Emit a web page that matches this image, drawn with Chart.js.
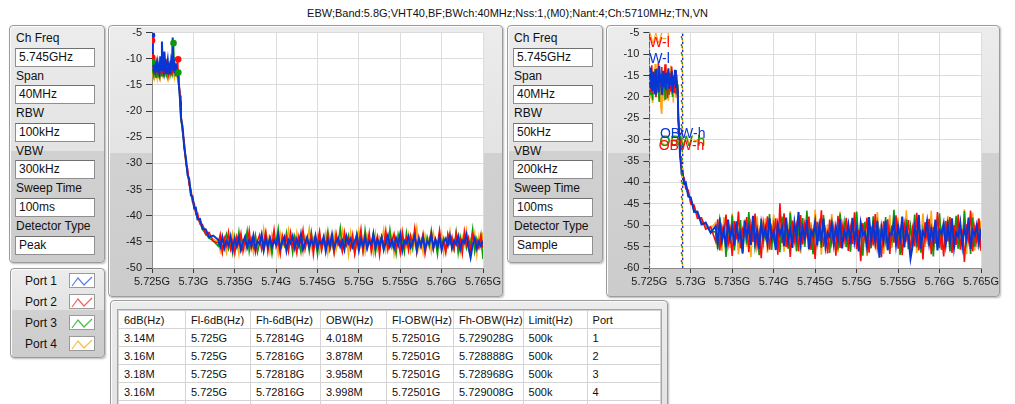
<!DOCTYPE html>
<html>
<head>
<meta charset="utf-8">
<title>EBW spectrum</title>
<script src="https://cdn.jsdelivr.net/npm/chart.js@4.4.1/dist/chart.umd.min.js"></script>
<style>
  html, body { margin: 0; padding: 0; }
  body {
    position: relative;
    width: 1015px;
    height: 404px;
    overflow: hidden;
    background: #fff;
    font-family: 'Liberation Sans', Arial, sans-serif;
    color: #111;
  }
  #title { position: absolute; top: 7px; left: 0; width: 1015px; text-align: center; font-size: 11px; }
  .panel {
    position: absolute;
    box-sizing: border-box;
    border: 1px solid #9b9b9b;
    border-radius: 4px;
    background: linear-gradient(#ececec 0%, #e3e3e3 var(--split), #d1d1d1 var(--split), #cccccc 100%);
    box-shadow: inset 1px 1px 0 #fbfbfb, 1px 1px 2px rgba(0,0,0,0.28);
  }
  .lbl { position: absolute; left: 6px; font-size: 12px; line-height: 14px; white-space: nowrap; }
  .field {
    position: absolute; left: 5px; width: 80px; height: 19px; box-sizing: border-box;
    background: #fff; border: 1px solid #8f8f8f; border-top-color: #6f6f6f;
    font-size: 12px; line-height: 17px; padding-left: 3px; white-space: nowrap;
  }
  .port { position: absolute; left: 14px; font-size: 12px; line-height: 14px; }
  .swatch { position: absolute; left: 58px; width: 26px; height: 15px; box-sizing: border-box; background: #fff; border: 1px solid #9a9a9a; }
  table {
    position: absolute; left: 7px; top: 9px; border-collapse: collapse; table-layout: fixed;
    background: #fff; font-size: 11px; outline: 1px solid #a4a4a4;
  }
  td { height: 17px; padding: 0 0 0 5px; border: 1px solid #d4d4d4; white-space: nowrap; overflow: hidden; }
  canvas { position: absolute; z-index: 2; }
</style>
</head>
<body>
<div id="title">EBW;Band:5.8G;VHT40,BF;BWch:40MHz;Nss:1,(M0);Nant:4;Ch:5710MHz;TN,VN</div>
<canvas id="left" width="410" height="285" style="left:110px;top:17px"></canvas>
<canvas id="right" width="409" height="285" style="left:606px;top:17px"></canvas>

<script>
// ---- settings / table text ----
const settingLabels = ['Ch Freq', 'Span', 'RBW', 'VBW', 'Sweep Time', 'Detector Type'];
const leftSettings = ['5.745GHz', '40MHz', '100kHz', '300kHz', '100ms', 'Peak'];
const rightSettings = ['5.745GHz', '40MHz', '50kHz', '200kHz', '100ms', 'Sample'];
const portNames = ['Port 1', 'Port 2', 'Port 3', 'Port 4'];

const tableHeaders = ['6dB(Hz)', 'Fl-6dB(Hz)', 'Fh-6dB(Hz)', 'OBW(Hz)', 'Fl-OBW(Hz)', 'Fh-OBW(Hz)', 'Limit(Hz)', 'Port'];
const tableRows = [
  ['3.14M', '5.725G', '5.72814G', '4.018M', '5.72501G', '5.729028G', '500k', '1'],
  ['3.16M', '5.725G', '5.72816G', '3.878M', '5.72501G', '5.728888G', '500k', '2'],
  ['3.18M', '5.725G', '5.72818G', '3.958M', '5.72501G', '5.728968G', '500k', '3'],
  ['3.16M', '5.725G', '5.72816G', '3.998M', '5.72501G', '5.729008G', '500k', '4']
];

// ---- axes ----
const xTickLabels = ['5.725G', '5.73G', '5.735G', '5.74G', '5.745G', '5.75G', '5.755G', '5.76G', '5.765G'];
const leftYMin = -50;
const rightYMin = -60;

// sweep bins of the noise floor (kHz above 5.725 GHz), shared by both graphs
const floorFreqKHz = [
  8000,8250,8500,8750,9000,9250,9500,9750,10000,10250,10500,10750,11000,11250,11500,11750,
  12000,12250,12500,12750,13000,13250,13500,13750,14000,14250,14500,14750,15000,15250,15500,15750,
  16000,16250,16500,16750,17000,17250,17500,17750,18000,18250,18500,18750,19000,19250,19500,19750,
  20000,20250,20500,20750,21000,21250,21500,21750,22000,22250,22500,22750,23000,23250,23500,23750,
  24000,24250,24500,24750,25000,25250,25500,25750,26000,26250,26500,26750,27000,27250,27500,27750,
  28000,28250,28500,28750,29000,29250,29500,29750,30000,30250,30500,30750,31000,31250,31500,31750,
  32000,32250,32500,32750,33000,33250,33500,33750,34000,34250,34500,34750,35000,35250,35500,35750,
  36000,36250,36500,36750,37000,37250,37500,37750,38000,38250,38500,38750,39000,39250,39500,39750,
  40000
];

// ---- left graph (RBW 100 kHz, peak) ----
const leftFreqKHz = [
  0,100,200,300,400,500,600,700,800,900,1000,1100,1200,1300,1400,1500,1600,1700,1800,1900,2000,2100,2200,2300,2400,2500,2600,2700,2800,2900,3000,3100,
  3150,3200,3300,3400,3500,3700,3900,4100,4300,4500,4700,4900,5100,5300,5500,5800,6100,6500,6900,7400
].concat(floorFreqKHz);

const leftPort1 = [
  -6,-10.5,-11.8,-10.9,-12.3,-11.2,-12.6,-10.8,-11.9,-12.8,-9.5,-12.1,-6.7,-11.5,-12.4,-8.6,-11.0,-12.7,-11.3,-10.2,-12.2,-11.6,-12.9,-10.7,-11.9,-5.9,-12.3,-11.1,-12.5,-10.9,-11.8,-12.6,
  -12.8,-14.2,-16.0,-18.1,-21.3,-23.0,-27.1,-29.0,-32.2,-33.0,-36.1,-36.3,-38.6,-38.5,-40.7,-40.6,-42.5,-42.6,-44.1,-43.8,
  -44.6,-45.9,-44.1,-46.2,-44.8,-45.6,-43.9,-46.4,-44.5,-45.8,-44.2,-46.5,-45.1,-44.0,-46.1,-44.7,
  -45.7,-43.8,-46.3,-44.9,-45.4,-43.6,-46.6,-44.4,-45.9,-44.3,-46.0,-44.8,-45.5,-43.7,-46.2,-45.0,
  -44.1,-46.7,-44.6,-45.3,-43.9,-46.1,-44.5,-45.8,-43.5,-46.4,-45.2,-44.2,-46.0,-44.7,-45.6,-43.8,
  -46.3,-44.9,-45.4,-44.0,-46.8,-44.6,-45.7,-43.6,-46.2,-45.1,-44.3,-45.9,-44.8,-46.5,-43.9,-45.3,
  -44.4,-46.0,-45.0,-43.7,-46.6,-44.5,-45.8,-44.1,-46.3,-44.9,-45.5,-43.5,-46.1,-44.6,-45.7,-44.2,
  -46.4,-45.2,-43.8,-45.9,-44.7,-46.2,-44.3,-45.6,-43.6,-46.7,-44.8,-45.3,-44.0,-46.0,-45.1,-43.9,
  -46.5,-44.5,-45.8,-44.2,-46.3,-44.9,-45.4,-43.7,-46.1,-44.6,-45.9,-44.1,-46.6,-45.0,-44.4,-45.7,
  -43.8,-46.2,-44.8,-45.5,-44.0,-46.4,-44.7,-45.2,-43.6,-46.0,-48.0,-45.6,-44.3,-46.3,-44.9,-45.8,
  -44.8
];
const leftPort2 = [
  -6.5,-9.9,-12.4,-11.1,-12.9,-10.6,-11.7,-13.1,-10.9,-12.2,-11.4,-12.8,-10.4,-11.9,-12.6,-11.0,-13.0,-10.1,-12.3,-11.5,-12.7,-11.2,-10.8,-12.9,-11.6,-12.1,-10.5,-12.8,-11.3,-12.0,-11.4,-10.1,
  -12.2,-13.1,-15.4,-17.0,-20.6,-24.1,-26.0,-30.1,-31.0,-34.2,-35.0,-37.4,-37.6,-39.7,-39.5,-41.6,-41.7,-43.6,-43.2,-44.9,
  -45.2,-43.6,-46.9,-44.3,-45.7,-43.2,-46.4,-44.9,-47.2,-44.0,-45.5,-43.4,-46.8,-44.6,-45.9,-42.9,
  -46.2,-44.4,-47.0,-44.8,-43.7,-46.5,-45.0,-43.1,-46.9,-44.2,-45.6,-42.7,-46.0,-44.9,-47.3,-43.8,
  -45.4,-44.1,-46.7,-43.3,-45.8,-44.7,-47.1,-43.9,-45.3,-42.8,-46.4,-44.5,-45.7,-43.5,-47.4,-44.3,
  -45.1,-43.0,-46.6,-44.8,-45.9,-43.6,-46.3,-44.1,-47.0,-43.4,-45.6,-44.9,-46.8,-43.2,-45.5,-44.4,
  -46.1,-43.7,-47.2,-44.6,-45.3,-42.6,-46.7,-44.0,-45.8,-43.3,-46.9,-44.7,-45.2,-43.9,-47.5,-44.2,
  -45.6,-42.9,-46.5,-44.5,-45.0,-43.5,-46.2,-44.8,-47.1,-43.1,-45.7,-44.3,-46.6,-43.8,-45.4,-42.5,
  -46.8,-44.1,-45.9,-43.6,-47.3,-44.9,-45.1,-43.2,-46.4,-44.4,-45.6,-42.8,-46.0,-44.7,-47.0,-43.5,
  -45.3,-44.0,-46.3,-43.4,-45.8,-44.6,-47.2,-43.0,-45.5,-44.2,-46.7,-43.7,-45.2,-44.8,-46.1,-43.9,
  -46.1
];
const leftPort3 = [
  -11.9,-12.4,-13.2,-11.6,-12.8,-13.5,-11.9,-12.6,-13.1,-11.3,-12.9,-12.2,-13.4,-11.8,-12.5,-13.0,-11.5,-12.7,-13.3,-12.0,-12.6,-11.4,-13.1,-12.3,-12.8,-11.7,-7.0,-12.4,-13.2,-11.9,-12.6,-12.6,
  -13.0,-14.5,-15.8,-18.4,-21.8,-23.6,-26.8,-29.8,-31.9,-33.8,-35.9,-37.1,-38.4,-39.3,-40.5,-41.3,-42.6,-43.5,-44.3,-44.8,
  -45.8,-44.2,-46.9,-44.7,-43.5,-46.3,-45.1,-47.2,-44.0,-45.9,-43.1,-46.5,-44.8,-45.4,-42.9,-46.8,
  -44.5,-46.0,-43.8,-47.0,-45.2,-44.1,-46.4,-43.4,-45.7,-44.6,-47.3,-44.3,-45.0,-42.5,-46.6,-44.9,
  -45.8,-43.3,-46.2,-44.4,-47.1,-43.9,-45.5,-44.7,-46.9,-43.6,-45.3,-44.0,-46.7,-43.2,-45.9,-44.5,
  -47.4,-43.7,-46.1,-44.2,-45.6,-43.0,-46.4,-44.8,-47.0,-44.1,-45.2,-42.4,-46.5,-44.6,-45.7,-43.8,
  -46.3,-44.9,-47.2,-43.5,-45.4,-44.3,-46.8,-42.8,-45.9,-44.0,-46.2,-43.4,-47.1,-44.7,-45.1,-43.9,
  -46.6,-44.4,-45.8,-42.7,-46.0,-44.8,-47.3,-43.6,-45.5,-44.2,-46.9,-43.3,-45.7,-44.5,-46.3,-43.1,
  -47.0,-44.6,-45.2,-43.7,-46.5,-44.1,-45.9,-42.9,-46.1,-44.8,-47.4,-43.5,-45.6,-44.3,-46.7,-43.8,
  -45.3,-44.9,-46.4,-43.2,-47.1,-44.0,-45.8,-43.6,-46.2,-44.7,-45.5,-42.6,-46.8,-44.4,-45.9,-43.7,
  -48.3
];
const leftPort4 = [
  -12.5,-13.0,-11.8,-13.4,-12.2,-12.9,-13.6,-11.7,-13.1,-12.4,-13.5,-12.0,-12.8,-13.3,-11.9,-13.0,-12.6,-13.4,-12.1,-12.9,-13.7,-12.3,-12.7,-13.2,-11.8,-13.0,-12.5,-13.5,-12.2,-12.8,-13.1,-12.7,
  -12.9,-13.8,-15.2,-17.8,-21.0,-23.9,-26.2,-29.3,-31.6,-33.3,-35.4,-36.6,-37.9,-38.8,-40.2,-41.1,-41.8,-42.9,-43.8,-44.5,
  -44.9,-46.7,-43.8,-45.5,-47.1,-44.3,-46.0,-43.4,-45.8,-44.6,-47.3,-44.0,-45.2,-46.5,-43.7,-45.9,
  -44.4,-47.0,-43.9,-45.6,-44.8,-46.3,-42.6,-45.4,-44.1,-46.9,-43.6,-45.3,-44.7,-47.2,-43.5,-45.7,
  -44.2,-46.4,-42.8,-45.1,-44.9,-46.6,-43.3,-45.8,-44.5,-47.0,-43.9,-45.0,-42.5,-46.2,-44.3,-45.6,
  -43.8,-46.8,-44.6,-45.3,-43.4,-47.1,-44.0,-45.9,-43.6,-46.5,-44.8,-45.2,-42.9,-46.0,-44.4,-47.4,
  -43.2,-45.5,-44.7,-46.1,-43.0,-45.8,-44.2,-46.9,-43.7,-45.4,-44.9,-47.2,-43.5,-46.3,-44.1,-45.0,
  -42.7,-46.6,-44.5,-45.7,-43.9,-47.3,-44.3,-45.2,-43.1,-46.4,-44.8,-45.9,-43.6,-46.7,-44.0,-45.4,
  -42.4,-46.2,-44.6,-47.0,-43.8,-45.6,-44.2,-46.8,-43.3,-45.1,-44.9,-46.0,-43.5,-47.1,-44.4,-45.8,
  -43.0,-46.5,-44.7,-45.3,-43.7,-46.9,-44.1,-45.5,-42.8,-46.3,-44.6,-45.7,-43.4,-47.4,-44.0,-45.9,
  -43.2
];
// marker dots seen on the left graph
const leftDotFreqKHz = [0, 0, 0, 0, 2600, 3160, 3180];
const leftDotLevel = [-5.5, -6.5, -9.7, -10.6, -7.0, -10.1, -12.6];
const leftDotPort = [0, 1, 1, 2, 2, 1, 2];

// ---- right graph (RBW 50 kHz, sample) ----
const rightFreqKHz = [
  0,100,200,300,400,500,600,700,800,900,1000,1100,1200,1300,1400,1500,1600,1700,1800,1900,2000,2100,2200,2300,2400,2500,2600,2700,2800,2900,3000,3100,3200,3300,3400,
  3450,3500,3600,3700,3800,3900,4000,4200,4400,4700,5000,5400,5800,6300,6800,7400
].concat(floorFreqKHz);

const rightPort1 = [
  -14.5,-17.8,-13.2,-16.9,-18.6,-14.1,-16.3,-19.2,-13.6,-17.4,-15.2,-18.9,-12.8,-16.6,-14.7,-19.5,-15.8,-13.9,-17.7,-16.1,-18.3,-14.4,-16.8,-13.3,-18.1,-15.5,-17.2,-14.0,-19.0,-15.9,-16.4,-13.7,-17.9,-16.2,-18.5,
  -20.2,-25.1,-28.4,-33.7,-34.8,-37.6,-37.3,-40.3,-40.0,-43.3,-43.5,-46.9,-46.8,-49.8,-49.4,-51.8,
  -50.2,-54.1,-49.3,-53.6,-51.0,-55.2,-48.7,-52.9,-50.6,-54.8,-49.1,-53.3,-51.7,-56.4,-48.9,-52.5,
  -50.3,-54.6,-47.8,-53.9,-51.2,-55.5,-49.6,-52.8,-50.9,-54.3,-48.4,-53.1,-51.5,-55.8,-49.8,-52.2,
  -50.5,-54.9,-48.2,-53.7,-51.1,-55.3,-49.4,-52.6,-46.9,-54.2,-50.7,-53.0,-48.8,-55.6,-51.4,-52.4,
  -49.2,-54.7,-50.1,-53.5,-48.5,-55.0,-51.8,-52.7,-49.7,-54.4,-50.4,-53.2,-48.6,-55.4,-51.3,-52.9,
  -49.9,-54.5,-48.3,-53.8,-50.8,-56.1,-49.5,-52.3,-51.6,-55.1,-48.1,-53.4,-50.0,-54.0,-49.0,-57.6,
  -50.6,-53.6,-48.9,-55.7,-51.9,-52.1,-49.3,-54.6,-50.2,-53.1,-48.0,-55.2,-51.0,-52.8,-57.8,-54.9,
  -50.4,-53.3,-47.6,-55.5,-51.5,-52.5,-49.1,-54.2,-50.9,-53.7,-48.7,-55.9,-51.2,-52.0,-49.6,-54.5,
  -50.1,-53.9,-48.4,-55.3,-51.7,-52.6,-49.4,-54.8,-50.7,-53.0,-48.2,-55.6,-51.3,-52.4,-49.9,-54.1,
  -51.0
];
const rightPort2 = [
  -13.8,-18.4,-15.1,-12.6,-19.3,-16.0,-14.2,-17.6,-20.1,-13.4,-16.7,-11.9,-18.8,-15.3,-17.1,-13.0,-19.6,-14.9,-16.3,-12.4,-18.0,-15.7,-20.3,-13.6,-17.3,-14.5,-18.7,-12.9,-16.9,-15.0,-19.1,-13.9,-17.5,-14.8,-18.2,
  -22.0,-24.0,-29.8,-32.5,-36.3,-36.4,-38.8,-38.9,-41.5,-41.8,-45.0,-45.3,-48.4,-48.3,-50.9,-50.4,
  -53.8,-48.6,-55.9,-50.4,-52.7,-47.5,-54.6,-51.3,-57.2,-49.0,-53.3,-46.8,-55.4,-50.9,-52.1,-48.1,
  -56.3,-50.0,-53.9,-47.3,-54.8,-51.6,-57.7,-49.4,-52.6,-47.9,-55.7,-50.6,-53.1,-48.4,-56.9,-44.9,
  -54.2,-47.2,-55.1,-51.0,-57.4,-48.9,-53.6,-50.2,-56.1,-47.6,-54.5,-49.6,-52.3,-48.0,-55.8,-50.8,
  -57.9,-49.2,-53.7,-46.5,-55.0,-51.4,-56.6,-48.7,-54.0,-50.5,-57.1,-47.8,-55.3,-49.9,-53.4,-48.3,
  -56.0,-50.7,-54.4,-47.0,-55.6,-51.1,-58.4,-49.5,-53.0,-48.2,-56.4,-50.3,-54.7,-47.4,-55.2,-51.8,
  -57.5,-49.1,-53.5,-48.6,-56.7,-50.1,-54.1,-47.7,-55.5,-51.5,-57.0,-49.7,-52.9,-48.8,-56.2,-50.9,
  -54.9,-47.1,-55.9,-51.2,-58.0,-49.3,-53.2,-48.5,-56.8,-50.4,-54.3,-46.9,-55.4,-51.7,-57.3,-49.0,
  -53.8,-48.1,-56.5,-50.0,-54.6,-47.5,-55.7,-51.0,-58.6,-49.8,-53.3,-46.6,-56.1,-50.6,-54.0,-48.4,
  -56.0
];
const rightPort3 = [
  -16.2,-19.4,-14.0,-17.3,-20.8,-15.1,-18.2,-13.5,-19.9,-16.4,-14.6,-18.7,-21.2,-15.4,-17.6,-13.9,-19.1,-16.7,-14.3,-20.5,-17.0,-15.6,-18.9,-14.1,-19.6,-16.0,-17.8,-13.7,-20.0,-15.2,-18.4,-14.8,-19.3,-16.5,-17.1,
  -21.5,-25.3,-28.7,-33.6,-35.1,-37.9,-37.6,-40.1,-40.3,-43.0,-43.8,-46.6,-47.1,-49.5,-49.7,-51.6,
  -51.5,-55.6,-48.2,-53.9,-50.1,-57.4,-49.6,-54.3,-47.7,-55.9,-51.0,-53.1,-48.8,-56.7,-50.5,-54.5,
  -46.9,-53.6,-49.3,-55.2,-51.8,-57.0,-48.5,-54.0,-50.3,-52.6,-47.4,-55.8,-49.9,-53.4,-51.3,-56.3,
  -48.0,-54.7,-50.8,-55.5,-47.1,-53.0,-49.5,-56.1,-50.6,-54.4,-48.3,-55.0,-46.6,-53.7,-51.1,-56.8,
  -49.0,-54.1,-50.0,-55.3,-47.6,-53.3,-51.6,-56.5,-48.9,-54.8,-50.2,-55.7,-47.3,-53.5,-49.4,-55.1,
  -50.7,-56.2,-48.4,-54.6,-46.8,-53.8,-51.4,-57.1,-49.2,-54.9,-50.4,-55.4,-47.9,-53.2,-49.7,-56.6,
  -51.2,-54.2,-48.1,-55.9,-50.9,-53.6,-46.4,-54.5,-49.8,-56.9,-51.7,-53.9,-48.6,-55.6,-50.3,-54.0,
  -47.5,-55.2,-49.1,-56.4,-51.0,-53.4,-48.7,-54.8,-50.6,-57.3,-49.5,-53.1,-47.2,-55.8,-50.0,-54.3,
  -48.8,-56.0,-51.3,-53.7,-47.8,-55.5,-49.9,-54.6,-46.7,-53.9,-50.8,-56.7,-48.2,-55.0,-49.6,-54.4,
  -50.7
];
const rightPort4 = [
  -15.4,-20.1,-13.1,-18.5,-21.4,-14.6,-17.9,-12.3,-19.0,-16.8,-19.2,-13.8,-20.6,-15.9,-22.5,-24.0,-18.3,-16.1,-21.0,-13.4,-19.7,-15.0,-17.4,-20.9,-14.4,-18.8,-12.7,-19.5,-16.3,-21.3,-14.9,-17.6,-20.2,-15.5,-18.0,
  -20.8,-24.2,-29.3,-32.7,-35.9,-36.7,-38.4,-39.2,-41.2,-42.2,-44.7,-45.5,-48.0,-48.6,-50.5,-50.8,
  -49.4,-54.7,-51.8,-56.0,-48.1,-53.2,-50.7,-55.3,-47.2,-54.0,-49.9,-56.8,-51.2,-53.7,-48.6,-55.1,
  -50.3,-57.5,-49.0,-52.9,-47.9,-55.7,-50.9,-54.3,-48.4,-56.4,-51.5,-53.0,-47.5,-55.4,-49.6,-54.6,
  -50.1,-56.2,-48.8,-53.5,-46.7,-55.0,-50.6,-54.1,-48.0,-56.6,-51.0,-53.8,-47.7,-55.9,-49.3,-54.5,
  -46.4,-53.1,-50.8,-56.9,-48.3,-54.2,-49.8,-55.6,-47.4,-53.6,-51.1,-56.3,-46.8,-54.9,-49.5,-55.2,
  -48.9,-56.1,-50.2,-53.3,-47.0,-55.8,-49.1,-54.8,-51.4,-57.2,-48.5,-53.9,-50.5,-55.5,-46.9,-54.4,
  -49.7,-56.7,-51.6,-53.4,-47.6,-55.3,-50.0,-54.6,-48.2,-57.0,-49.4,-53.7,-46.5,-55.6,-50.4,-54.2,
  -48.7,-56.5,-51.3,-53.1,-47.3,-55.1,-49.9,-54.7,-46.6,-56.0,-50.6,-53.5,-48.1,-55.7,-49.2,-54.0,
  -47.8,-56.3,-51.0,-53.8,-48.6,-55.4,-50.2,-54.9,-46.3,-56.8,-49.6,-53.2,-47.1,-55.9,-50.5,-54.3,
  -48.9
];
// cursor name tags on the right graph (port index, cursor, level where the tag sits)
const cursorTagPort = [3, 1, 0, 3, 2, 1, 0];
const cursorTagName = ['OBW-l', 'OBW-l', 'OBW-l', 'OBW-h', 'OBW-h', 'OBW-h', 'OBW-h'];
const cursorTagLevel = [-6.6, -7.5, -11.1, -30.3, -30.5, -31.6, -28.7];

// ---- colours ----
const portColors = ['#0636d4', '#ff0a0a', '#0c9a0c', '#ffa71a'];
const swatchColors = ['#5a7fe6', '#ff5c5c', '#4cbb4c', '#ffbb44'];

Chart.defaults.font.family = "'Liberation Sans', Arial, sans-serif";
Chart.defaults.font.size = 11;
Chart.defaults.color = '#1c1c1c';

// ====================================
// Panels
// ====================================
function addPanel(left, top, width, height, split) {
  const p = document.createElement('div');
  p.className = 'panel';
  p.style.cssText = `left:${left}px;top:${top}px;width:${width}px;height:${height}px;--split:${split}%`;
  document.body.appendChild(p);
  return p;
}

function buildSettings(left, values) {
  const p = addPanel(left, 25, 96, 238, 53);
  settingLabels.forEach((name, i) => {
    const l = document.createElement('div');
    l.className = 'lbl';
    l.textContent = name;
    l.style.top = (5 + i * 37.6) + 'px';
    p.appendChild(l);
    const f = document.createElement('div');
    f.className = 'field';
    f.textContent = values[i];
    f.style.top = (21.5 + i * 37.6) + 'px';
    p.appendChild(f);
  });
}

buildSettings(9, leftSettings);
addPanel(108, 25, 395, 272, 47);
buildSettings(507, rightSettings);
addPanel(606, 25, 394, 272, 47);

// port legend
const portPanel = addPanel(10, 268, 95, 90, 47);
portNames.forEach((name, i) => {
  const t = document.createElement('div');
  t.className = 'port';
  t.textContent = name;
  t.style.top = (5 + i * 21) + 'px';
  portPanel.appendChild(t);
  const s = document.createElement('div');
  s.className = 'swatch';
  s.style.top = (4 + i * 21) + 'px';
  s.innerHTML = `<svg width="24" height="13"><polyline points="2,11 8,3 14,10 22,2" fill="none" stroke="${swatchColors[i]}" stroke-width="1.2"/></svg>`;
  portPanel.appendChild(s);
});

// result table
const tablePanel = addPanel(110, 300, 558, 115, 100);
const colWidths = [67, 65, 70, 66, 67, 68, 64, 73];
let html = '<colgroup>' + colWidths.map(w => `<col style="width:${w}px">`).join('') + '</colgroup>';
html += '<tr>' + tableHeaders.map(h => `<td>${h}</td>`).join('') + '</tr>';
tableRows.forEach(r => { html += '<tr>' + r.map(c => `<td>${c}</td>`).join('') + '</tr>'; });
html += '<tr>' + colWidths.map(() => '<td></td>').join('') + '</tr>';
const table = document.createElement('table');
table.innerHTML = html;
tablePanel.appendChild(table);

// ====================================
// Charts
// ====================================
const plotBackground = {
  id: 'plotBackground',
  beforeDraw(chart) {
    const a = chart.chartArea, c = chart.ctx;
    c.save();
    c.fillStyle = '#ffffff';
    c.fillRect(a.left, a.top, a.right - a.left, a.bottom - a.top);
    c.restore();
  }
};

const cursorText = {
  id: 'cursorText',
  afterDatasetsDraw(chart, args, opts) {
    const items = opts.items || [];
    if (!items.length) return;
    const { ctx, chartArea: a, scales: { x, y } } = chart;
    ctx.save();
    ctx.beginPath();
    ctx.rect(a.left, a.top, a.right - a.left, a.bottom - a.top);
    ctx.clip();
    ctx.font = "14px 'Liberation Sans', Arial, sans-serif";
    ctx.textAlign = 'center';
    ctx.textBaseline = 'middle';
    items.forEach(it => {
      ctx.fillStyle = it.color;
      ctx.fillText(it.text, x.getPixelForValue(it.x), y.getPixelForValue(it.y));
    });
    ctx.restore();
  }
};

function series(freq, values) {
  return freq.map((f, i) => ({ x: f, y: values[i] }));
}

function buildChart(canvasId, freq, ports, yMin, yWidth, padRight, extraSets, tags) {
  const traces = ports.map((vals, i) => ({
    data: series(freq, vals),
    borderColor: portColors[i],
    borderWidth: i === 0 ? 2.0 : 1.6,
    pointRadius: 0,
    tension: 0
  }));
  return new Chart(document.getElementById(canvasId), {
    type: 'line',
    data: { datasets: [...extraSets, ...traces] },
    options: {
      responsive: false,
      animation: false,
      events: [],
      layout: { padding: { left: 0, top: 15.7, right: padRight, bottom: 0 } },
      plugins: {
        legend: { display: false },
        tooltip: { enabled: false },
        cursorText: { items: tags }
      },
      scales: {
        x: {
          type: 'linear', min: 0, max: 40000,
          afterFit(s) { s.height = 34; },
          ticks: { stepSize: 5000, autoSkip: false, maxRotation: 0, padding: 2, callback: (v, i) => xTickLabels[i] },
          grid: { color: '#dcdcdc', tickColor: '#3a3a3a', tickLength: 5 },
          border: { color: '#8a8a8a' }
        },
        y: {
          min: yMin, max: -5,
          afterFit(s) { s.width = yWidth; },
          ticks: { stepSize: 5, padding: 4 },
          grid: { color: '#dcdcdc', tickColor: '#3a3a3a', tickLength: 6 },
          border: { color: '#8a8a8a' }
        }
      }
    },
    plugins: [plotBackground, cursorText]
  });
}

// left graph: 6 dB marker dots on top of the traces
const leftDots = {
  data: leftDotFreqKHz.map((f, i) => ({ x: f, y: leftDotLevel[i] })),
  showLine: false,
  pointRadius: 3.3,
  pointBorderWidth: 0,
  pointBackgroundColor: leftDotPort.map(p => portColors[p])
};
buildChart('left', leftFreqKHz, [leftPort1, leftPort2, leftPort3, leftPort4], leftYMin, 42, 37, [leftDots], []);

// right graph: OBW cursors taken from the table (Fl-OBW / Fh-OBW columns)
const toKHz = s => Math.round((parseFloat(s) - 5.725) * 1e6);
const obwLow = tableRows.map(r => toKHz(r[4]));
const obwHigh = tableRows.map(r => toKHz(r[5]));
const cursorSets = [];
[obwLow, obwHigh].forEach(list => {
  list.forEach((f, i) => {
    cursorSets.push({
      data: [{ x: f, y: rightYMin }, { x: f, y: -5 }],
      borderColor: portColors[i],
      borderWidth: 1.4,
      borderDash: [2, 6],
      borderDashOffset: i * 2,
      pointRadius: 0
    });
  });
});
const rightTags = cursorTagPort.map((p, i) => ({
  text: cursorTagName[i],
  x: cursorTagName[i] === 'OBW-l' ? obwLow[p] : obwHigh[p],
  y: cursorTagLevel[i],
  color: portColors[p]
}));
buildChart('right', rightFreqKHz, [rightPort1, rightPort2, rightPort3, rightPort4], rightYMin, 43.3, 34, cursorSets, rightTags);
</script>
</body>
</html>
